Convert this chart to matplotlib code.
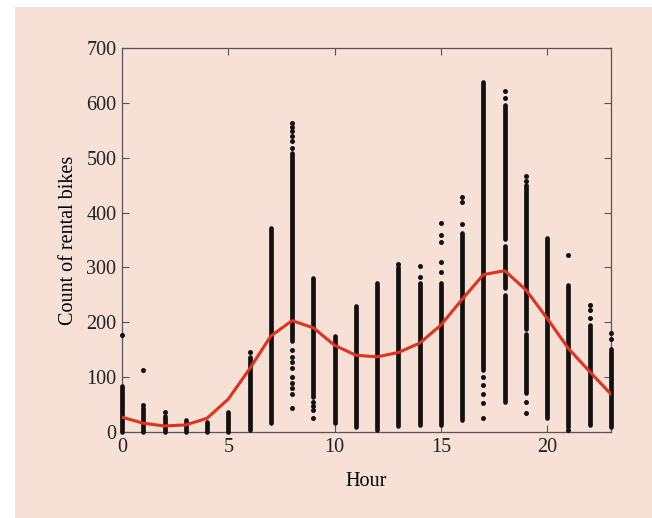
import matplotlib
matplotlib.use('Agg')
import matplotlib.pyplot as plt

# hourly average rentals
hours = list(range(24))
mean_count = [27, 16, 11, 13, 25, 60, 115, 175, 203, 190, 158, 140,
              137, 145, 162, 195, 242, 287, 294, 259, 207, 152, 110, 69]

# solid runs of observations (hour, lowest, highest)
span_hour = [0, 1, 2, 3, 4, 5, 6, 7, 8, 9, 10, 11, 12, 13, 14, 15, 16, 17,
             18, 18, 18, 19, 19, 20, 21, 22, 23]
span_low = [0, 0, 0, 0, 0, 0, 3, 16, 165, 64, 16, 10, 4, 11, 12, 12, 22, 113,
            55, 262, 352, 71, 188, 25, 10, 12, 10]
span_high = [83, 43, 30, 22, 18, 36, 136, 371, 508, 280, 175, 230, 272, 300, 272, 271, 362, 638,
             250, 340, 596, 178, 450, 353, 268, 195, 152]

# isolated observations outside the solid runs
extra_hour = [0, 1, 1, 2, 6,
              8, 8, 8, 8, 8, 8, 8, 8, 8, 8, 8, 8, 8, 8, 8,
              9, 9, 9, 9, 13, 14, 14,
              15, 15, 15, 15, 15, 16, 16, 16,
              17, 17, 17, 17, 17, 18, 18,
              19, 19, 19, 19, 21, 21, 22, 22, 22, 23, 23]
extra_count = [177, 49, 113, 37, 146,
               43, 70, 80, 89, 101, 116, 128, 137, 150, 518, 530, 540, 548, 556, 563,
               25, 40, 48, 55, 306, 283, 303,
               292, 310, 347, 359, 381, 380, 420, 429,
               25, 52, 70, 86, 101, 608, 622,
               34, 55, 458, 466, 4, 323, 207, 222, 231, 169, 180]

bg = '#f7e0d5'
plt.rcParams['font.family'] = ['Liberation Serif', 'DejaVu Serif']
plt.rcParams['text.color'] = '#222222'
plt.rcParams['xtick.labelcolor'] = '#222222'
plt.rcParams['ytick.labelcolor'] = '#222222'

fig = plt.figure(figsize=(6.52, 5.18), dpi=100)
fig.patch.set_facecolor('white')
panel = plt.Rectangle((15 / 652, 0), 1, 1 - 7 / 518, transform=fig.transFigure,
                      facecolor=bg, linewidth=0, zorder=-10)
fig.patches.append(panel)

ax = fig.add_axes([0.1871, 0.166, 0.75, 0.7413])
ax.set_facecolor(bg)

ax.vlines(span_hour, span_low, span_high, colors='#111111', linewidth=3.4,
          capstyle='round', clip_on=False, zorder=3)
ax.plot(extra_hour, extra_count, 'o', color='#111111', markersize=3.6,
        markeredgewidth=0, clip_on=False, zorder=3)
ax.plot(hours, mean_count, color='#e0321e', linewidth=2.2, zorder=4)

ax.set_xlim(0, 23)
ax.set_ylim(0, 700)
ax.set_xticks([0, 5, 10, 15, 20])
ax.set_yticks(range(0, 701, 100))
ax.tick_params(direction='in', top=True, right=True, length=5, width=0.8,
               color='#555555', labelsize=14.5, pad=4)
for s in ax.spines.values():
    s.set_color('#555555')
    s.set_linewidth(0.9)

ax.set_xlabel('Hour', fontsize=14.5, labelpad=11)
ax.set_ylabel('Count of rental bikes', fontsize=14.5, labelpad=6)

plt.savefig('out.png', dpi=100, facecolor=fig.get_facecolor())
